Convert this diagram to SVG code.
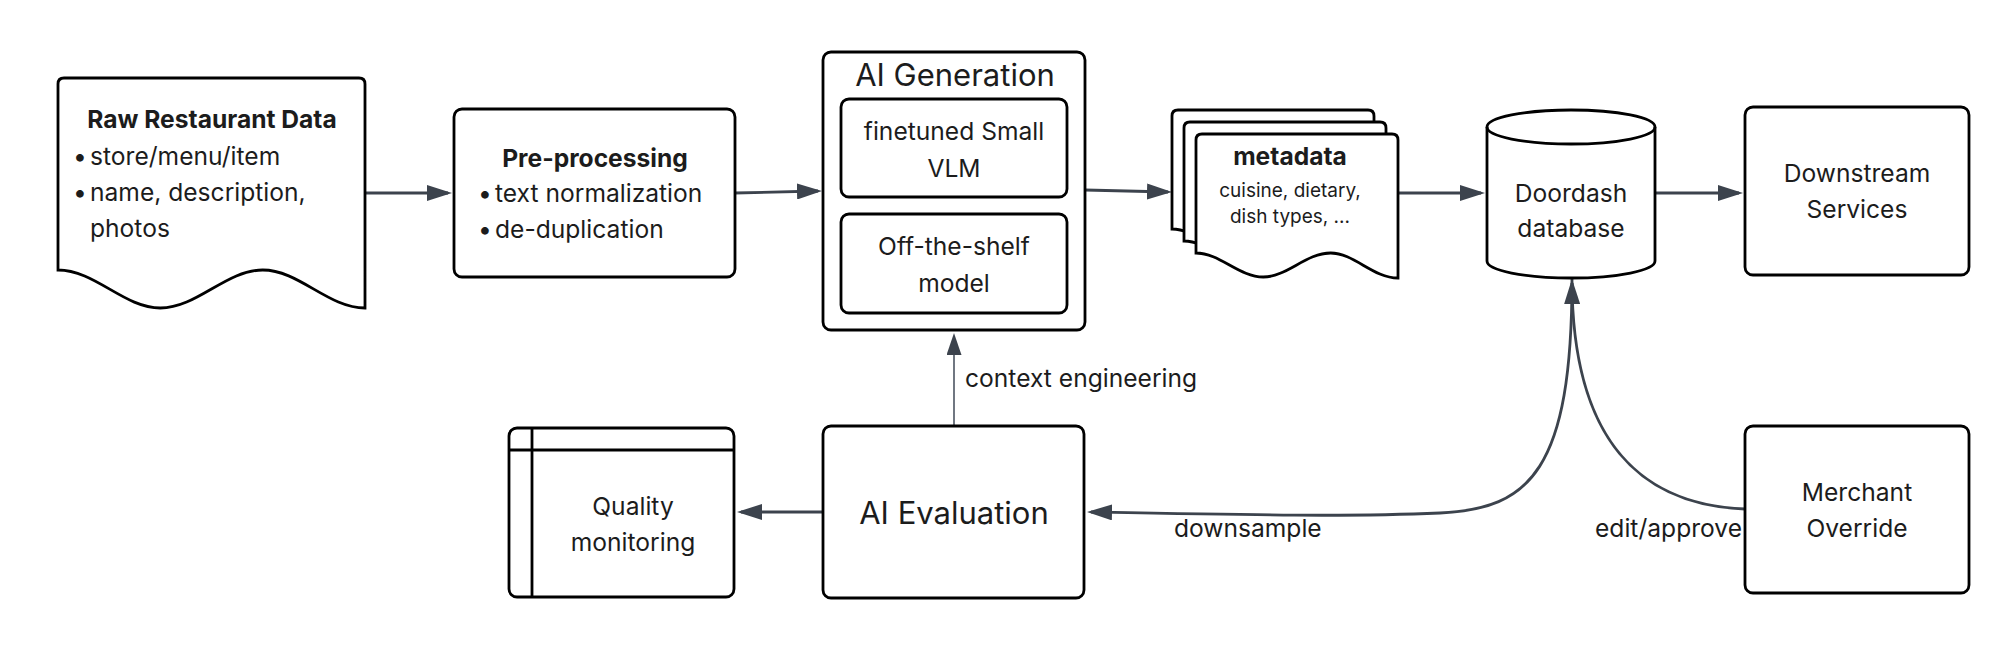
<svg xmlns="http://www.w3.org/2000/svg" width="2014" height="658" viewBox="0 0 2014 658">
<defs>
<style>
.n{fill:#fff;stroke:#000;stroke-width:2.8}
.ln{fill:none;stroke:#000;stroke-width:2.8}
.t{font-family:Inter,"Noto Sans","Liberation Sans",sans-serif;font-size:24.6px;fill:#1c1c1c}
.c{text-anchor:middle}
.b{font-weight:700}
.big{font-size:31px}
.sm{font-size:19px}
.e{fill:none;stroke:#3c434d;stroke-width:2.8}
.thin{stroke-width:1.6;stroke:#4d5562}
</style>
<marker id="ah" viewBox="0 0 25 16" refX="21" refY="8" markerWidth="25" markerHeight="16" markerUnits="userSpaceOnUse" orient="auto"><path d="M0,0 L25,8 L0,16 Z" fill="#3c434d"/></marker>
<marker id="ahs" viewBox="0 0 22 15" refX="19" refY="7.5" markerWidth="22" markerHeight="15" markerUnits="userSpaceOnUse" orient="auto"><path d="M0,0 L22,7.5 L0,15 Z" fill="#3c434d"/></marker>
</defs>
<rect width="2014" height="658" fill="#fff"/>

<g id="edges">
<path class="e" d="M365,193 L448,193" marker-end="url(#ah)"/>
<path class="e" d="M735,193 L818,191" marker-end="url(#ah)"/>
<path class="e" d="M1085,190 L1168,192" marker-end="url(#ah)"/>
<path class="e" d="M1398,193 L1481,193" marker-end="url(#ah)"/>
<path class="e" d="M1655,193 L1739,193" marker-end="url(#ah)"/>
<path class="e thin" d="M954,426 L954,336" marker-end="url(#ahs)"/>
<path class="e" d="M823,512 L741,512" marker-end="url(#ah)"/>
<path class="e" d="M1572,279 C1572,470 1530,509 1440,513 C1350,517 1250,515 1091,512" marker-end="url(#ah)"/>
<path class="e" d="M1745,509 C1640,505 1573,440 1572,283" marker-end="url(#ah)"/>
<text class="t" x="965" y="387">context engineering</text>
<text class="t" x="1174" y="537">downsample</text>
<text class="t" x="1742" y="537" text-anchor="end">edit/approve</text>
</g>

<g id="raw-data">
<path class="n" d="M64,78 L359,78 Q365,78 365,84 L365,308 C328,308 299,270 262.7,270 C226,270 197,308 160.3,308 C124,308 95,270 58,270 L58,84 Q58,78 64,78 Z"/>
<text class="t b c" x="212" y="128">Raw Restaurant Data</text>
<text class="t" x="73" y="165">•</text><text class="t" x="90" y="165">store/menu/item</text>
<text class="t" x="73" y="201">•</text><text class="t" x="90" y="201">name, description,</text>
<text class="t" x="90" y="237">photos</text>
</g>

<g id="pre-processing">
<rect class="n" x="454" y="109" width="281" height="168" rx="8"/>
<text class="t b c" x="595" y="167">Pre-processing</text>
<text class="t" x="478" y="202">•</text><text class="t" x="495" y="202">text normalization</text>
<text class="t" x="478" y="238">•</text><text class="t" x="495" y="238">de-duplication</text>
</g>

<g id="ai-generation">
<rect class="n" x="823" y="52" width="262" height="278" rx="8"/>
<text class="t big c" x="955" y="86">AI Generation</text>
<g id="small-vlm">
<rect class="n" x="841" y="99" width="226" height="98" rx="8"/>
<text class="t c" x="954" y="140">finetuned Small</text>
<text class="t c" x="954" y="177">VLM</text>
</g>
<g id="off-the-shelf">
<rect class="n" x="841" y="214" width="226" height="99" rx="8"/>
<text class="t c" x="954" y="255">Off-the-shelf</text>
<text class="t c" x="954" y="292">model</text>
</g>
</g>

<g id="metadata">
<path class="n" transform="translate(-24,-24)" d="M1202,134 L1392,134 Q1398,134 1398,140 L1398,278 C1373,278 1354,253 1330.7,253 C1306,253 1287,277 1263.3,277 C1239,277 1220,253 1196,253 L1196,140 Q1196,134 1202,134 Z"/>
<path class="n" transform="translate(-12,-12)" d="M1202,134 L1392,134 Q1398,134 1398,140 L1398,278 C1373,278 1354,253 1330.7,253 C1306,253 1287,277 1263.3,277 C1239,277 1220,253 1196,253 L1196,140 Q1196,134 1202,134 Z"/>
<path class="n" d="M1202,134 L1392,134 Q1398,134 1398,140 L1398,278 C1373,278 1354,253 1330.7,253 C1306,253 1287,277 1263.3,277 C1239,277 1220,253 1196,253 L1196,140 Q1196,134 1202,134 Z"/>
<text class="t b c" x="1290" y="165">metadata</text>
<text class="t sm c" x="1290" y="197">cuisine, dietary,</text>
<text class="t sm c" x="1290" y="223">dish types, ...</text>
</g>

<g id="doordash-db">
<path class="n" d="M1487,127 A84,17 0 0 1 1655,127 L1655,261 A84,17 0 0 1 1487,261 Z"/>
<path class="ln" d="M1487,127 A84,17 0 0 0 1655,127"/>
<text class="t c" x="1571" y="202">Doordash</text>
<text class="t c" x="1571" y="237">database</text>
</g>

<g id="downstream">
<rect class="n" x="1745" y="107" width="224" height="168" rx="8"/>
<text class="t c" x="1857" y="182">Downstream</text>
<text class="t c" x="1857" y="218">Services</text>
</g>

<g id="quality-monitoring">
<rect class="n" x="509" y="428" width="225" height="169" rx="8"/>
<path class="ln" d="M509,450 L734,450 M532,428 L532,597"/>
<text class="t c" x="633" y="515">Quality</text>
<text class="t c" x="633" y="551">monitoring</text>
</g>

<g id="ai-evaluation">
<rect class="n" x="823" y="426" width="261" height="172" rx="8"/>
<text class="t big c" x="954" y="524">AI Evaluation</text>
</g>

<g id="merchant-override">
<rect class="n" x="1745" y="426" width="224" height="167" rx="8"/>
<text class="t c" x="1857" y="501">Merchant</text>
<text class="t c" x="1857" y="537">Override</text>
</g>
</svg>
